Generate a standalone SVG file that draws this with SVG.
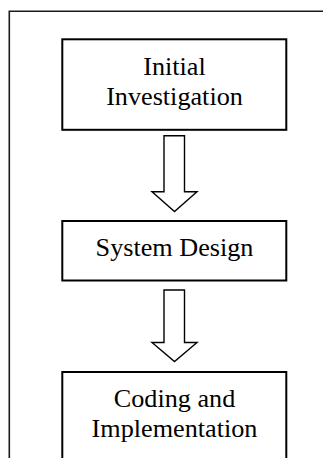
<svg xmlns="http://www.w3.org/2000/svg" width="323" height="458" viewBox="0 0 323 458">
<style>
.frame{fill:none;stroke:#1a1a1a;stroke-width:1.6}
.box{fill:#fff;stroke:#000;stroke-width:2}
.arrow{fill:#fff;stroke:#000;stroke-width:1.4;stroke-linejoin:miter}
text{font-family:"Liberation Serif","Times New Roman",serif;font-size:26.2px;fill:#000;text-anchor:middle}
</style>
<rect fill="#fff" x="0" y="0" width="323" height="458"/>
<path class="frame" d="M9.3,460 V11.3 H330"/>
<g id="node1">
<rect class="box" x="62.3" y="39.3" width="224" height="90.5"/>
<text x="174.5" y="74.5">Initial</text>
<text x="174.5" y="104.5">Investigation</text>
</g>
<g id="node2">
<rect class="box" x="62.3" y="221" width="224" height="59.5"/>
<text x="174.5" y="256">System Design</text>
</g>
<g id="node3">
<rect class="box" x="62.3" y="372" width="224" height="100"/>
<text x="174.5" y="406.7">Coding and</text>
<text x="174.5" y="436.7">Implementation</text>
</g>
<g id="connectors">
<path class="arrow" d="M164,135.7 H184.5 V191.7 H197 L174.5,211.5 L152,191.7 H164 Z"/>
<path class="arrow" d="M164,290 H184.5 V342.5 H197 L174.5,361.5 L152,342.5 H164 Z"/>
</g>
</svg>
